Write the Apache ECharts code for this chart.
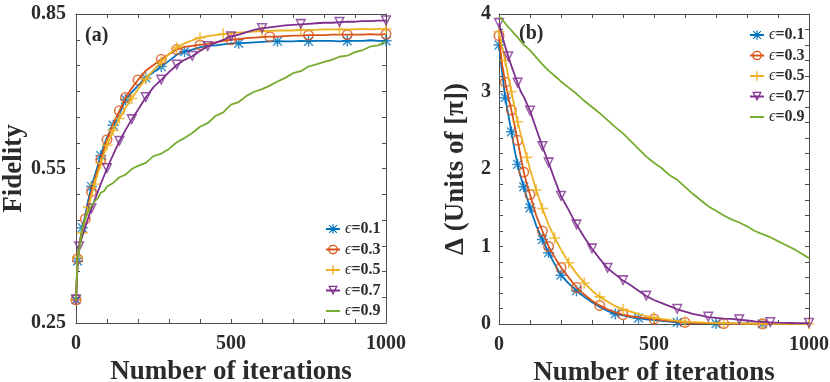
<!DOCTYPE html>
<html>
<head>
<meta charset="utf-8">
<script src="https://cdn.jsdelivr.net/npm/echarts@6/dist/echarts.min.js"></script>
<style>
  html, body { margin: 0; padding: 0; background: #fff; }
  #chart { width: 830px; height: 382px; }
</style>
</head>
<body>
<div id="chart"></div>
<script>
// iteration sample points (shared by both panels)
const iters = [
  0, 5, 10, 20, 30, 40, 50, 60, 70, 80, 90, 100,
  120, 140, 160, 180, 200,
  225, 250, 275, 300, 325, 350, 375, 400,
  425, 450, 475, 500, 525, 550, 575, 600,
  625, 650, 675, 700, 725, 750, 775, 800,
  825, 850, 875, 900, 925, 950, 975, 1000
];

const names = ["ϵ=0.1", "ϵ=0.3", "ϵ=0.5", "ϵ=0.7", "ϵ=0.9"];

// (a) fidelity
const fid01 = [
  0.295, 0.37, 0.40, 0.435, 0.46, 0.49, 0.515, 0.535, 0.555, 0.575, 0.595, 0.61,
  0.634, 0.656, 0.684, 0.698, 0.711,
  0.726, 0.737, 0.748, 0.759, 0.771, 0.777, 0.781, 0.785,
  0.788, 0.789, 0.791, 0.793, 0.793, 0.794, 0.795, 0.796,
  0.797, 0.797, 0.797, 0.797, 0.798, 0.797, 0.798, 0.798,
  0.798, 0.797, 0.798, 0.798, 0.798, 0.799, 0.798, 0.798
];
const fid03 = [
  0.295, 0.375, 0.40, 0.43, 0.452, 0.48, 0.505, 0.527, 0.548, 0.567, 0.588, 0.606,
  0.637, 0.662, 0.688, 0.706, 0.722,
  0.74, 0.751, 0.762, 0.772, 0.781, 0.786, 0.788, 0.79,
  0.792, 0.795, 0.798, 0.80, 0.801, 0.803, 0.804, 0.805,
  0.806, 0.806, 0.807, 0.808, 0.808, 0.809, 0.809, 0.809,
  0.81, 0.81, 0.81, 0.81, 0.81, 0.811, 0.81, 0.811
];
const fid05 = [
  0.295, 0.378, 0.395, 0.425, 0.45, 0.475, 0.498, 0.52, 0.54, 0.56, 0.578, 0.595,
  0.624, 0.647, 0.668, 0.686, 0.704,
  0.724, 0.741, 0.757, 0.772, 0.785, 0.793, 0.799, 0.804,
  0.807, 0.809, 0.811, 0.813, 0.814, 0.815, 0.816, 0.817,
  0.817, 0.818, 0.818, 0.818, 0.819, 0.819, 0.819, 0.82,
  0.82, 0.82, 0.82, 0.82, 0.821, 0.82, 0.821, 0.821
];
const fid07 = [
  0.295, 0.36, 0.398, 0.418, 0.437, 0.455, 0.472, 0.488, 0.504, 0.52, 0.535, 0.55,
  0.577, 0.603, 0.625, 0.645, 0.664,
  0.688, 0.708, 0.722, 0.737, 0.751, 0.761, 0.768, 0.778,
  0.787, 0.794, 0.80, 0.806, 0.81, 0.815, 0.819, 0.822,
  0.824, 0.826, 0.828, 0.829, 0.83, 0.831, 0.832, 0.833,
  0.833, 0.834, 0.835, 0.835, 0.836, 0.836, 0.837, 0.837
];
const fid09 = [
  0.295, 0.37, 0.39, 0.43, 0.455, 0.467, 0.478, 0.486, 0.492, 0.503, 0.506, 0.515,
  0.522, 0.533, 0.538, 0.549, 0.555,
  0.561, 0.574, 0.579, 0.588, 0.601, 0.609, 0.619, 0.631,
  0.638, 0.652, 0.659, 0.674, 0.679, 0.691, 0.699, 0.704,
  0.711, 0.719, 0.726, 0.735, 0.739, 0.748, 0.752, 0.757,
  0.761, 0.767, 0.769, 0.776, 0.78, 0.787, 0.789, 0.797
];

// (b) delta, units of pi
const del01 = [
  3.6, 3.42, 3.25, 2.92, 2.7, 2.48, 2.25, 2.06, 1.9, 1.77, 1.63, 1.5,
  1.27, 1.09, 0.92, 0.77, 0.63,
  0.52, 0.43, 0.35, 0.28, 0.22, 0.17, 0.13, 0.11,
  0.09, 0.075, 0.06, 0.05, 0.04, 0.03, 0.022, 0.017,
  0.013, 0.01, 0.008, 0.006, 0.005, 0.004, 0.004, 0.003,
  0.003, 0.002, 0.002, 0.002, 0.001, 0.001, 0.001, 0.001
];
const del03 = [
  3.72, 3.52, 3.35, 3.12, 2.93, 2.76, 2.57, 2.37, 2.16, 1.96, 1.8, 1.67,
  1.4, 1.2, 1.0, 0.86, 0.73,
  0.6, 0.47, 0.38, 0.3, 0.24, 0.19, 0.15, 0.12,
  0.1, 0.085, 0.075, 0.065, 0.05, 0.04, 0.03, 0.02,
  0.016, 0.012, 0.01, 0.008, 0.006, 0.005, 0.004, 0.003,
  0.003, 0.002, 0.002, 0.002, 0.001, 0.001, 0.001, 0.001
];
const del05 = [
  3.77, 3.67, 3.57, 3.4, 3.2, 3.0, 2.8, 2.61, 2.45, 2.3, 2.15, 2.0,
  1.73, 1.49, 1.28, 1.11, 0.96,
  0.79, 0.65, 0.53, 0.43, 0.35, 0.29, 0.23, 0.19,
  0.16, 0.13, 0.1, 0.083, 0.066, 0.052, 0.04, 0.03,
  0.025, 0.02, 0.015, 0.012, 0.01, 0.008, 0.007, 0.006,
  0.005, 0.004, 0.004, 0.003, 0.003, 0.003, 0.002, 0.002
];
const del07 = [
  3.88, 3.8, 3.72, 3.58, 3.45, 3.33, 3.22, 3.11, 3.0, 2.93, 2.84, 2.75,
  2.52, 2.29, 2.08, 1.86, 1.65,
  1.47, 1.28, 1.12, 0.97, 0.84, 0.72, 0.64, 0.56,
  0.5, 0.43, 0.36, 0.31, 0.27, 0.23, 0.19, 0.16,
  0.13, 0.11, 0.09, 0.08, 0.07, 0.065, 0.055, 0.045,
  0.035, 0.028, 0.02, 0.017, 0.015, 0.013, 0.012, 0.01
];
const del09 = [
  3.97, 3.95, 3.93, 3.88, 3.83, 3.79, 3.74, 3.7, 3.65, 3.6, 3.57, 3.53,
  3.44, 3.35, 3.27, 3.2, 3.13,
  3.05, 2.97, 2.88, 2.8, 2.72, 2.63, 2.54, 2.46,
  2.36, 2.26, 2.16, 2.08, 2.01, 1.92, 1.86, 1.77,
  1.68, 1.6, 1.52, 1.46, 1.4, 1.35, 1.31, 1.26,
  1.2, 1.16, 1.12, 1.07, 1.02, 0.97, 0.91, 0.85
];

// iterations where markers sit
const markA = [
  [0, 5, 20, 50, 80, 120, 160, 225, 275, 350, 525, 650, 750, 875, 1000],
  [0, 5, 30, 50, 80, 100, 140, 160, 200, 275, 325, 400, 500, 625, 750, 875, 1000],
  [0, 5, 20, 40, 60, 80, 100, 120, 140, 180, 225, 275, 325, 400, 475, 600, 725, 850, 1000],
  [0, 10, 50, 100, 140, 180, 225, 275, 325, 375, 425, 500, 600, 725, 850, 1000],
  []
];
const markB = [
  [0, 20, 40, 60, 80, 100, 140, 160, 200, 250, 375, 450, 575, 700, 850],
  [0, 20, 40, 60, 80, 100, 140, 160, 200, 250, 325, 400, 500, 600, 725, 850],
  [0, 20, 40, 60, 90, 120, 140, 180, 225, 275, 325, 400, 500, 600, 725, 850, 1000],
  [0, 30, 60, 100, 140, 160, 200, 250, 300, 350, 400, 475, 575, 675, 775, 875, 1000],
  []
];

const fidLabels = [0.25, 0.55, 0.85];
const delLabels = [0, 1, 2, 3, 4];
const iterLabels = [0, 500, 1000];

const colors = ["#0072BD", "#D95319", "#EDB120", "#7E2F8E", "#77AC30"];
const symAst = "path://M8.7,0L11.3,0L11.3,20L8.7,20Z M0,8.7L20,8.7L20,11.3L0,11.3Z M2.9,1.1L18.9,17.1L17.1,18.9L1.1,2.9Z M17.1,1.1L18.9,2.9L2.9,18.9L1.1,17.1Z";
const symRing = "path://M10,0A10,10 0 1,1 10,20A10,10 0 1,1 10,0Z M10,2.8A7.2,7.2 0 1,0 10,17.2A7.2,7.2 0 1,0 10,2.8Z";
const symPlus = "path://M8.6,0L11.4,0L11.4,20L8.6,20Z M0,8.6L20,8.6L20,11.4L0,11.4Z";
const symTri = "path://M0,0L20,0L10,18Z M4.2,2.6L10,12.9L15.8,2.6Z";
const symbols = [symAst, symRing, symPlus, symTri, "none"];

const font = "'Liberation Serif', 'Times New Roman', serif";
const ink = "#2b2b2b";
const axisGrey = "#4d4d4d";

const fmt = (list, digits) => v => list.some(t => Math.abs(t - v) < 1e-6) ? v.toFixed(digits) : "";

function axisPair(kind, gridIndex, opts) {
  const base = {
    type: "value",
    gridIndex: gridIndex,
    min: opts.min, max: opts.max, interval: opts.interval,
    axisLine: { show: true, onZero: false, lineStyle: { color: axisGrey, width: 1 } },
    axisTick: { show: true, inside: true, length: 4, lineStyle: { color: axisGrey } },
    splitLine: { show: false }
  };
  const main = Object.assign({}, base, {
    position: kind === "x" ? "bottom" : "left",
    name: opts.name,
    nameLocation: "middle",
    nameGap: opts.nameGap,
    nameTextStyle: { fontFamily: font, fontWeight: "bold", fontSize: 27, color: ink },
    axisLabel: {
      formatter: opts.formatter, margin: opts.margin,
      fontFamily: font, fontWeight: "bold", fontSize: 20, color: ink
    }
  });
  const mirror = Object.assign({}, base, {
    position: kind === "x" ? "top" : "right",
    axisLabel: { show: false }
  });
  return [main, mirror];
}

const xAxes = [
  ...axisPair("x", 0, { min: 0, max: 1000, interval: 100, name: "Number of iterations", nameGap: 30, margin: 11, formatter: fmt(iterLabels, 0) }),
  ...axisPair("x", 1, { min: 0, max: 1000, interval: 100, name: "Number of iterations", nameGap: 30, margin: 11, formatter: fmt(iterLabels, 0) })
];
const yAxes = [
  ...axisPair("y", 0, { min: 0.25, max: 0.85, interval: 0.05, name: "Fidelity", nameGap: 46, margin: 10, formatter: fmt(fidLabels, 2) }),
  ...axisPair("y", 1, { min: 0, max: 4, interval: 0.2, name: "\u0394 (Units of [\u03c0])", nameGap: 29, margin: 8, formatter: fmt(delLabels, 0) })
];

const series = [];
function addPanel(axisIdx, curves, marks) {
  curves.forEach((vals, k) => {
    series.push({
      type: "line",
      name: names[k],
      xAxisIndex: axisIdx, yAxisIndex: axisIdx,
      data: iters.map((x, i) => [x, vals[i]]),
      symbol: symbols[k],
      symbolSize: 10,
      showSymbol: false,
      lineStyle: { color: colors[k], width: 1.8 },
      itemStyle: { color: colors[k] },
      z: 2 + k
    });
    if (marks[k].length) {
      series.push({
        type: "scatter",
        name: "_m" + axisIdx + k,
        xAxisIndex: axisIdx, yAxisIndex: axisIdx,
        data: marks[k].map(m => [m, vals[iters.indexOf(m)]]),
        symbol: symbols[k],
        symbolSize: 11,
        itemStyle: { color: colors[k] },
        silent: true,
        z: 2 + k
      });
    }
  });
}
addPanel(0, [fid01, fid03, fid05, fid07, fid09], markA);
addPanel(2, [del01, del03, del05, del07, del09], markB);

// no marker on the plain green line in the legend
const legendData = names.map((n, k) => symbols[k] === "none" ? { name: n, itemStyle: { opacity: 0 } } : n);

const legendBase = {
  orient: "vertical",
  data: legendData,
  itemWidth: 14,
  itemHeight: 12,
  itemGap: 4.5,
  formatter: n => "{e|ϵ}{v|" + n.slice(1) + "}",
  textStyle: {
    fontFamily: font, fontSize: 16, color: ink, lineHeight: 16,
    rich: {
      e: { fontFamily: font, fontStyle: "italic", fontWeight: "normal", fontSize: 16, color: ink },
      v: { fontFamily: font, fontWeight: "bold", fontSize: 16, color: ink }
    }
  },
  selectedMode: false
};

const option = {
  animation: false,
  backgroundColor: "#fff",
  title: [
    { text: "(a)", left: 80, top: 21, textStyle: { fontFamily: font, fontWeight: "bold", fontSize: 20, color: ink } },
    { text: "(b)", left: 514, top: 19, textStyle: { fontFamily: font, fontWeight: "bold", fontSize: 20, color: ink } }
  ],
  grid: [
    { left: 76, top: 14, width: 310, height: 309, outerBoundsMode: "none", containLabel: false },
    { left: 499, top: 14, width: 310, height: 310, outerBoundsMode: "none", containLabel: false }
  ],
  xAxis: xAxes,
  yAxis: yAxes,
  legend: [
    Object.assign({}, legendBase, { left: 320, top: 216 }),
    Object.assign({}, legendBase, { left: 744, top: 22 })
  ],
  series: series
};

const chart = echarts.init(document.getElementById("chart"));
chart.setOption(option);
</script>
</body>
</html>
